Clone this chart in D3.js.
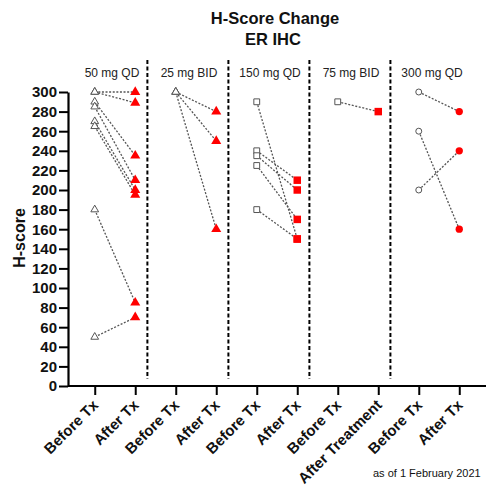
<!DOCTYPE html>
<html><head><meta charset="utf-8">
<script src="https://cdn.jsdelivr.net/npm/d3@7"></script>
<style>body{margin:0;background:#fff;} text{font-family:"Liberation Sans",Arial,sans-serif;}</style>
</head><body>
<svg id="chart" width="486" height="490"></svg>
<script>
// ---- data ----
const categories = ["Before Tx","After Tx","Before Tx","After Tx","Before Tx","After Tx","Before Tx","After Treatment","Before Tx","After Tx"];
const groups = ["50 mg QD","25 mg BID","150 mg QD","75 mg BID","300 mg QD"];
const groupShapes = ["triangle","triangle","square","square","circle"];
const before50QD = [300,300,290,285,270,265,180,50];
const after50QD  = [300,289,235,210,200,195,85,70];
const before25BID = [300,300,300];
const after25BID  = [280,250,160];
const before150QD = [290,240,235,225,180];
const after150QD  = [150,210,200,170,150];
const before75BID = [290];
const after75BID  = [280];
const before300QD = [300,260,200];
const after300QD  = [280,160,240];
const yTicks = [0,20,40,60,80,100,120,140,160,180,200,220,240,260,280,300];
const title = ["H-Score Change","ER IHC"];
const yLabel = "H-score";
const footnote = "as of 1 February 2021";

const beforeSets = [before50QD,before25BID,before150QD,before75BID,before300QD];
const afterSets = [after50QD,after25BID,after150QD,after75BID,after300QD];

// ---- layout ----
const svg = d3.select("#chart");
const x = d3.scalePoint().domain(d3.range(categories.length)).range([68,486]).padding(0.66);
const y = d3.scaleLinear().domain([0,300]).range([386,92]);
const step = x.step();

// title
svg.append("text").attr("x",275).attr("y",24).attr("text-anchor","middle")
  .attr("font-size",16.5).attr("font-weight","bold").attr("fill","#111").text(title[0]);
svg.append("text").attr("x",273).attr("y",45).attr("text-anchor","middle")
  .attr("font-size",16.5).attr("font-weight","bold").attr("fill","#111").text(title[1]);

// y axis
const yAxis = d3.axisLeft(y).tickValues(yTicks).tickSize(9).tickSizeOuter(0).tickPadding(2);
const gy = svg.append("g").attr("transform","translate(68,0)").call(yAxis);
gy.select(".domain").attr("stroke","#000").attr("stroke-width",2.2);
gy.selectAll(".tick line").attr("stroke","#000").attr("stroke-width",2);
gy.selectAll(".tick text").attr("font-size",15).attr("font-weight","bold").attr("fill","#111")
  .attr("font-family","Liberation Sans, Arial, sans-serif");

// x axis
const xAxis = d3.axisBottom(x).tickSize(9).tickSizeOuter(0).tickFormat(i => categories[i]);
const gx = svg.append("g").attr("transform","translate(0,386)").call(xAxis);
gx.select(".domain").attr("stroke","#000").attr("stroke-width",2.2).attr("d","M68,0H486");
gx.selectAll(".tick line").attr("stroke","#000").attr("stroke-width",2);
gx.selectAll(".tick text").attr("font-size",15).attr("font-weight","bold").attr("fill","#111")
  .attr("font-family","Liberation Sans, Arial, sans-serif")
  .attr("text-anchor","end").attr("dy",null).attr("y",null)
  .attr("transform","translate(4,20) rotate(-45)");

// y label
svg.append("text").attr("transform","translate(25,238) rotate(-90)").attr("text-anchor","middle")
  .attr("font-size",16).attr("font-weight","bold").attr("fill","#111").text(yLabel);

// dividers & group labels
const dividerX = groups.slice(0,4).map((g,i) => x(2*i+1) + step*0.3);
svg.selectAll("line.div").data(dividerX).join("line").attr("class","div")
  .attr("x1",d=>d).attr("x2",d=>d).attr("y1",60).attr("y2",379)
  .attr("stroke","#000").attr("stroke-width",2).attr("stroke-dasharray","4,2.5");
svg.selectAll("text.grp").data(groups).join("text").attr("class","grp")
  .attr("x",(d,i)=> (x(2*i)+x(2*i+1))/2 - 7 + (i===0?4:0))
  .attr("y",77).attr("text-anchor","middle").attr("font-size",12).attr("fill","#222").text(d=>d);

// paired points
const symType = {triangle:d3.symbolTriangle, square:d3.symbolSquare, circle:d3.symbolCircle};
const openSize = {triangle:26, square:34, circle:28};
const fillSize = {triangle:44, square:56, circle:42};
groups.forEach((g,gi) => {
  const b = beforeSets[gi], a = afterSets[gi];
  const xb = x(2*gi), xa = x(2*gi+1);
  const gg = svg.append("g");
  b.forEach((v,k) => {
    gg.append("line").attr("x1",xb).attr("y1",y(v)).attr("x2",xa).attr("y2",y(a[k]))
      .attr("stroke","#555").attr("stroke-width",1.3).attr("stroke-dasharray","2,1.6");
  });
  const sh = groupShapes[gi];
  b.forEach(v => {
    gg.append("path").attr("d",d3.symbol().type(symType[sh]).size(openSize[sh])())
      .attr("transform",`translate(${xb},${y(v)})`).attr("fill","#fff")
      .attr("stroke","#555").attr("stroke-width",1);
  });
  a.forEach(v => {
    gg.append("path").attr("d",d3.symbol().type(symType[sh]).size(fillSize[sh])())
      .attr("transform",`translate(${xa},${y(v)})`).attr("fill","#f00").attr("stroke","none");
  });
});

// footnote
svg.append("text").attr("x",373).attr("y",477).attr("font-size",11).attr("fill","#111")
  .attr("font-family","Open Sans, sans-serif").text(footnote);
</script>
</body></html>
